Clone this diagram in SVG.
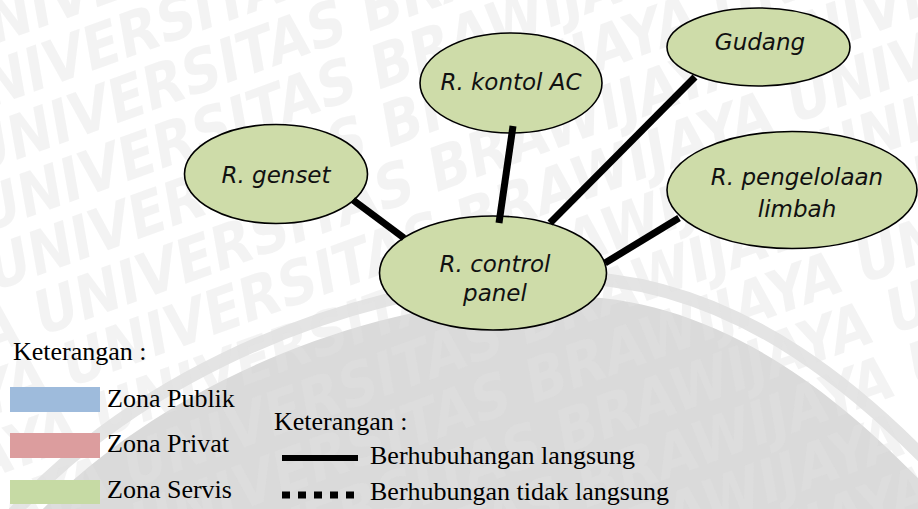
<svg xmlns="http://www.w3.org/2000/svg" width="918" height="509" viewBox="0 0 918 509">
  <style>
    .node ellipse { fill: #cedca9; stroke: #000; stroke-width: 1.6; }
    .node text { font-family: "DejaVu Sans", Verdana, sans-serif; font-style: italic; font-size: 23px; fill: #111; text-anchor: middle; }
    .link { stroke: #000; stroke-width: 7; stroke-linecap: butt; fill: none; }
    .legend text { font-family: "Liberation Serif", "Times New Roman", serif; font-size: 26px; fill: #000; }
    .wm text { font-family: "DejaVu Sans Condensed", "DejaVu Sans", sans-serif; font-weight: bold; font-size: 60px; fill: #e1e1e1; fill-opacity: 0.4; }
  </style>
  <defs>
    <path id="dome" d="M 0 560 C 100 420, 330 298, 560 296 C 720 294, 860 400, 990 560 L 990 620 L 0 620 Z"/>
  </defs>

  <!-- background -->
  <rect x="0" y="0" width="918" height="509" fill="#ffffff"/>

  <!-- emblem dome in the background: outer ring, white band, grey core -->
  <g id="emblem">
    <use href="#dome" fill="#dadada" stroke="#e4e4e4" stroke-width="50"/>
    <use href="#dome" fill="#dadada" stroke="#ffffff" stroke-width="24"/>
    <use href="#dome" fill="#dadada"/>
  </g>

  <!-- repeated institution name stamped over the background -->
  <g class="wm" transform="rotate(-20) skewX(-10)">
    <text x="-60" y="40">UNIVERSITAS BRAWIJAYA UNIVERSITAS BRAWIJAYA</text>
    <text x="-170" y="98">YA UNIVERSITAS BRAWIJAYA UNIVERSITAS BRAWIJAYA</text>
    <text x="-190" y="156">AYA UNIVERSITAS BRAWIJAYA UNIVERSITAS BRAWIJAYA</text>
    <text x="-210" y="214">JAYA UNIVERSITAS BRAWIJAYA UNIVERSITAS BRAWIJAYA</text>
    <text x="-230" y="272">IJAYA UNIVERSITAS BRAWIJAYA UNIVERSITAS BRAWIJAYA</text>
    <text x="-250" y="330">WIJAYA UNIVERSITAS BRAWIJAYA UNIVERSITAS BRAWIJAYA</text>
    <text x="-270" y="388">AWIJAYA UNIVERSITAS BRAWIJAYA UNIVERSITAS BRAWIJAYA</text>
    <text x="-290" y="446">RAWIJAYA UNIVERSITAS BRAWIJAYA UNIVERSITAS BRAWIJAYA</text>
    <text x="-310" y="504">BRAWIJAYA UNIVERSITAS BRAWIJAYA UNIVERSITAS BRAWIJAYA</text>
    <text x="-370" y="562">S BRAWIJAYA UNIVERSITAS BRAWIJAYA UNIVERSITAS BRAWIJAYA</text>
    <text x="-390" y="620">AS BRAWIJAYA UNIVERSITAS BRAWIJAYA UNIVERSITAS BRAWIJAYA</text>
    <text x="-410" y="678">TAS BRAWIJAYA UNIVERSITAS BRAWIJAYA UNIVERSITAS BRAWIJAYA</text>
    <text x="-430" y="736">ITAS BRAWIJAYA UNIVERSITAS BRAWIJAYA UNIVERSITAS BRAWIJAYA</text>
    <text x="-450" y="794">SITAS BRAWIJAYA UNIVERSITAS BRAWIJAYA UNIVERSITAS BRAWIJAYA</text>
  </g>

  <!-- rooms -->
  <g id="node-genset" class="node">
    <ellipse cx="276" cy="174" rx="91.5" ry="49.5"/>
    <text x="276" y="183">R. genset</text>
  </g>
  <g id="node-kontrol-ac" class="node">
    <ellipse cx="511" cy="83" rx="91" ry="50"/>
    <text x="511" y="90">R. kontol AC</text>
  </g>
  <g id="node-gudang" class="node">
    <ellipse cx="758.5" cy="47" rx="91.5" ry="39"/>
    <text x="760" y="50">Gudang</text>
  </g>
  <g id="node-limbah" class="node">
    <ellipse cx="792" cy="190" rx="125" ry="58.5"/>
    <text x="797" y="185">R. pengelolaan</text>
    <text x="797" y="217">limbah</text>
  </g>
  <g id="node-control-panel" class="node">
    <ellipse cx="493" cy="273" rx="113.5" ry="57"/>
    <text x="495" y="272">R. control</text>
    <text x="495" y="301">panel</text>
  </g>

  <!-- direct relations -->
  <g id="connectors">
    <line class="link" x1="353" y1="200" x2="404" y2="238"/>
    <line class="link" x1="513" y1="126" x2="499" y2="223"/>
    <line class="link" x1="695" y1="77" x2="550" y2="223"/>
    <line class="link" x1="679" y1="218" x2="605" y2="263"/>
  </g>

  <!-- zone legend -->
  <g id="legend-zones" class="legend">
    <text x="13" y="360">Keterangan :</text>
    <rect x="10" y="387" width="90" height="25" fill="#9ebbdc"/>
    <text x="107" y="407">Zona Publik</text>
    <rect x="10" y="433" width="90" height="25" fill="#dc9d9e"/>
    <text x="107" y="452">Zona Privat</text>
    <rect x="10" y="480" width="90" height="24" fill="#c6daa4"/>
    <text x="107" y="498">Zona Servis</text>
  </g>

  <!-- relation legend -->
  <g id="legend-relations" class="legend">
    <text x="274" y="430">Keterangan :</text>
    <line x1="282" y1="458" x2="358" y2="458" stroke="#000" stroke-width="6"/>
    <text x="370" y="464">Berhubuhangan langsung</text>
    <line x1="282" y1="495" x2="354" y2="495" stroke="#000" stroke-width="7" stroke-dasharray="8 8"/>
    <text x="370" y="500">Berhubungan tidak langsung</text>
  </g>
</svg>
